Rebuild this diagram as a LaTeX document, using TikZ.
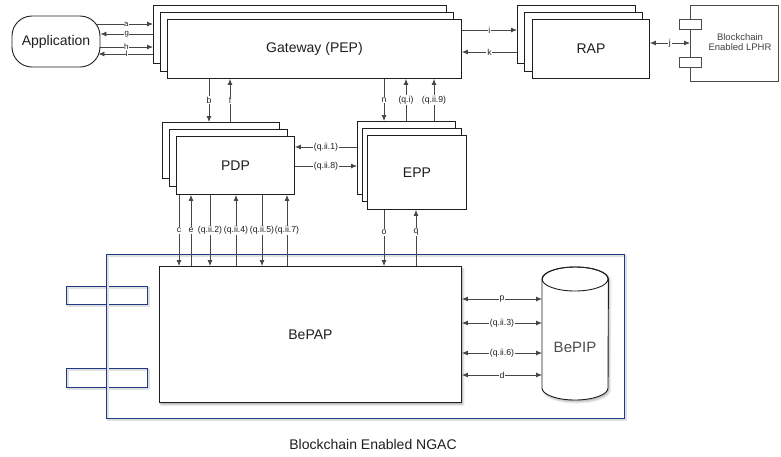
\documentclass[tikz,border=0pt]{standalone}
\usepackage{fontspec}
\setmainfont{Liberation Sans}
\usetikzlibrary{arrows.meta,backgrounds,shadows.blur}
\definecolor{ngacblue}{RGB}{32,56,130}
\definecolor{wirec}{RGB}{70,70,70}
\definecolor{ink}{RGB}{30,30,30}
\begin{document}
\begin{tikzpicture}[x=1pt,y=-1pt,
  box/.style={draw=ink, fill=white, line width=0.9pt, rectangle, inner sep=0pt, anchor=north west},
  title/.style={font=\fontsize{14}{16}\selectfont, text=ink},
  wire/.style={draw=wirec, line width=0.8pt},
  fwd/.style={wire, -{Latex[length=6pt,width=5pt]}},
  both/.style={wire, {Latex[length=6pt,width=5pt]}-{Latex[length=6pt,width=5pt]}},
  lbl/.style={font=\fontsize{8.7}{9}\selectfont, fill=white, inner sep=0.8pt, text=ink},
  tightlbl/.style={lbl, font=\fontsize{7.8}{8}\selectfont, inner sep=0.2pt},
  nblue/.style={draw=ngacblue, line width=0.9pt, rectangle, inner sep=0pt, anchor=north west,
    preaction={draw=black!12, line width=1.8pt, transform canvas={xshift=1.3pt, yshift=-1.8pt}}},
]
\useasboundingbox (0,0) rectangle (781,456);

% ---- NGAC frame and side tabs
\node[nblue, minimum width=81pt, minimum height=18pt] (tab1) at (66,286) {};
\node[nblue, minimum width=81pt, minimum height=19pt] (tab2) at (66,368) {};
\node[nblue, minimum width=518pt, minimum height=164pt] (ngac) at (106,254) {};
\node[title] (ngaclbl) at (373,444) {Blockchain Enabled NGAC};

% ---- Application
\node[draw=ink, fill=white, line width=0.9pt, rounded corners=20pt,
      minimum width=88pt, minimum height=51pt, inner sep=0pt, title] (app) at (56,41.5) {Application};

% ---- Gateway (PEP) stack
\node[box, minimum width=293pt, minimum height=58pt] (gwB) at (153,5) {};
\node[box, minimum width=293pt, minimum height=59pt] (gwM) at (160,12) {};
\node[box, minimum width=294pt, minimum height=59pt] (gw)  at (167,19) {};
\node[title] at (gw.center) {Gateway (PEP)};

% ---- RAP stack
\node[box, minimum width=118pt, minimum height=58pt] (rapB) at (517,5) {};
\node[box, minimum width=118pt, minimum height=59pt] (rapM) at (524,12) {};
\node[box, minimum width=117pt, minimum height=59pt] (rap)  at (532,19) {};
\node[title] at (rap.center) {RAP};

% ---- Blockchain enabled LPHR component
\node[box, draw=black!70, minimum width=88pt, minimum height=76pt] (lphr) at (690,5) {};
\node[box, draw=black!70, minimum width=22pt, minimum height=10pt] (port1) at (679,19) {};
\node[box, draw=black!70, minimum width=22pt, minimum height=10pt] (port2) at (679,57) {};
\node[font=\fontsize{9.5}{10}\selectfont, text=black!75, align=center] (lphrtxt) at (740,42) {Blockchain\\Enabled LPHR};

% ---- PDP stack
\node[box, minimum width=117pt, minimum height=56pt] (pdpB) at (162,122) {};
\node[box, minimum width=118pt, minimum height=57pt] (pdpM) at (169,129) {};
\node[box, minimum width=118pt, minimum height=58pt] (pdp)  at (176,136) {};
\node[title] at (pdp.center) {PDP};

% ---- EPP stack
\node[box, minimum width=98pt, minimum height=73pt] (eppB) at (357,121) {};
\node[box, minimum width=99pt, minimum height=73pt] (eppM) at (362,128) {};
\node[box, minimum width=99pt, minimum height=74pt] (epp)  at (367,135) {};
\node[title] at (epp.center) {EPP};

% ---- BePAP
\node[box, minimum width=302pt, minimum height=136pt,
      blur shadow={shadow xshift=1.5pt, shadow yshift=-2pt, shadow blur radius=2pt, shadow opacity=35}] (pap) at (159,266) {};
\node[title] at (pap.center) {BePAP};

% ---- BePIP cylinder
\node[inner sep=0pt, minimum width=66pt, minimum height=133pt, anchor=north west] (pip) at (542,267) {};
\filldraw[draw=ink, fill=white, line width=0.9pt,
      blur shadow={shadow xshift=1.5pt, shadow yshift=-2pt, shadow blur radius=2pt, shadow opacity=30}]
  (pip.north west |- 0,279) -- (pip.south west |- 0,388)
  arc[start angle=180, end angle=0, x radius=33, y radius=12]
  -- (pip.north east |- 0,279)
  arc[start angle=0, end angle=-180, x radius=33, y radius=12] -- cycle;
\draw[draw=ink, line width=0.9pt] (575,279) ellipse [x radius=33, y radius=12];
\node[title, font=\fontsize{15}{17}\selectfont, text=black!70] (piptxt) at (575,347) {BePIP};

% ---- row / column guides for the connectors
\coordinate (ra) at (0,24);  \coordinate (rg) at (0,34);
\coordinate (rh) at (0,47);  \coordinate (rl) at (0,54);
\coordinate (ri) at (0,30);  \coordinate (rk) at (0,52);
\coordinate (rj) at (0,43);
\coordinate (r1) at (0,147); \coordinate (r8) at (0,166);
\coordinate (rp) at (0,299); \coordinate (r3) at (0,323);
\coordinate (r6) at (0,353); \coordinate (rd) at (0,375);
\coordinate (cb) at (209,0); \coordinate (cf) at (230,0);
\coordinate (cn) at (384,0); \coordinate (cqi) at (406,0); \coordinate (cq9) at (434,0);
\coordinate (cc) at (179,0); \coordinate (ce) at (191,0);
\coordinate (c2) at (210,0); \coordinate (c4) at (236,0);
\coordinate (c5) at (262,0); \coordinate (c7) at (287,0);
\coordinate (co) at (384,0); \coordinate (cq) at (416,0);

% ---- Application <-> Gateway
\begin{scope}[on background layer]
\draw[fwd] (app.center |- ra) -- (gwB.west |- ra) node[tightlbl, pos=0.725] {a};
\draw[fwd] (app.center |- rh) -- (gwB.west |- rh) node[tightlbl, pos=0.725] {h};
\end{scope}
\draw[fwd] (gwB.west |- rg) -- (app.east |- rg) node[tightlbl, midway] {g};
\draw[fwd, shorten >=-2pt] (gwB.west |- rl) -- (app.east |- rl) node[tightlbl, midway] {l};

% ---- Gateway <-> RAP <-> LPHR
\draw[fwd] (gw.east |- ri) -- (rapB.west |- ri) node[lbl, midway] {i};
\draw[fwd] (rapB.west |- rk) -- (gw.east |- rk) node[lbl, midway] {k};
\draw[both] (rap.east |- rj) -- (lphr.west |- rj) node[lbl, midway] {j};

% ---- Gateway <-> PDP / EPP
\draw[fwd] (gw.south -| cb) -- (pdpB.north -| cb) node[lbl, midway] {b};
\draw[fwd] (pdpB.north -| cf) -- (gw.south -| cf) node[lbl, midway] {f};
\draw[fwd] (gw.south -| cn) -- (eppB.north -| cn) node[lbl, midway] {n};
\draw[fwd] (eppB.north -| cqi) -- (gw.south -| cqi) node[lbl, midway] {(q.i)};
\draw[fwd] (eppB.north -| cq9) -- (gw.south -| cq9) node[lbl, midway] {(q.ii.9)};

% ---- PDP <-> EPP
\draw[fwd] (eppB.west |- r1) -- (pdp.east |- r1) node[lbl, midway] {(q.ii.1)};
\draw[fwd] (pdp.east |- r8) -- (eppB.west |- r8) node[lbl, midway] {(q.ii.8)};

% ---- PDP <-> BePAP
\draw[fwd] (pdp.south -| cc) -- (pap.north -| cc) node[lbl, midway] {c};
\draw[fwd] (pap.north -| ce) -- (pdp.south -| ce) node[lbl, midway] {e};
\draw[fwd] (pdp.south -| c2) -- (pap.north -| c2) node[lbl, midway] {(q.ii.2)};
\draw[fwd] (pap.north -| c4) -- (pdp.south -| c4) node[lbl, midway] {(q.ii.4)};
\draw[fwd] (pdp.south -| c5) -- (pap.north -| c5) node[lbl, midway] {(q.ii.5)};
\draw[fwd] (pap.north -| c7) -- (pdp.south -| c7) node[lbl, midway] {(q.ii.7)};

% ---- EPP <-> BePAP
\draw[fwd] (epp.south -| co) -- (pap.north -| co) node[lbl, pos=0.4] {o};
\draw[fwd] (pap.north -| cq) -- (epp.south -| cq) node[lbl, pos=0.6] {q};

% ---- BePAP <-> BePIP
\draw[both] (pap.east |- rp) -- (pip.west |- rp) node[lbl, midway] {p};
\draw[both] (pap.east |- r3) -- (pip.west |- r3) node[lbl, midway] {(q.ii.3)};
\draw[both] (pap.east |- r6) -- (pip.west |- r6) node[lbl, midway] {(q.ii.6)};
\draw[both] (pap.east |- rd) -- (pip.west |- rd) node[lbl, midway] {d};
\end{tikzpicture}
\end{document}
